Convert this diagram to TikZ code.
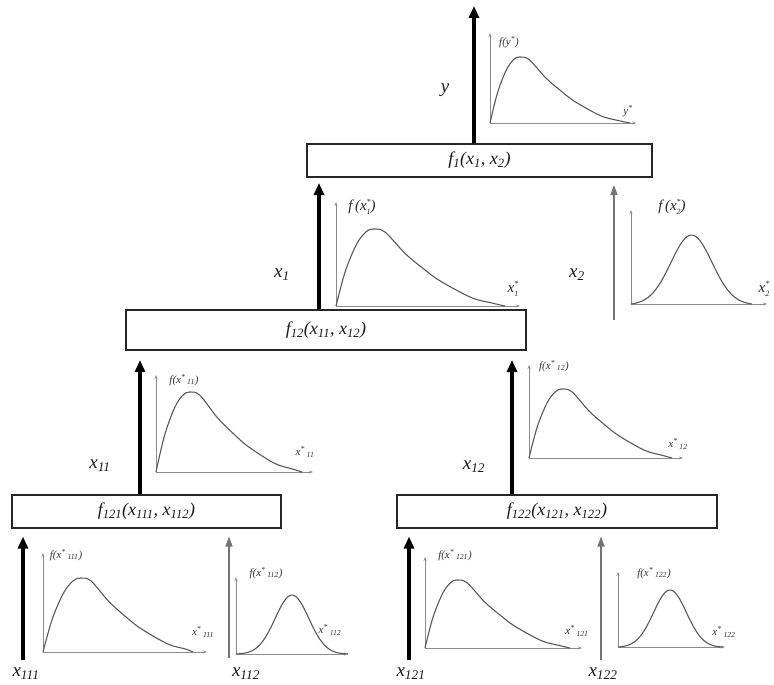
\documentclass[tikz,border=0pt]{standalone}
\usepackage{fontspec}
\setmainfont{Liberation Serif}
\usetikzlibrary{arrows.meta}
\newcommand\sbs[1]{\textsubscript{#1}}
\newcommand\sps[1]{\textsuperscript{#1}}
\newcommand\stk[2]{\raisebox{-0.6ex}{\fontsize{8}{8}\selectfont\shortstack{#1\\[0.3ex]#2}}}
\newcommand\skewplot[7]{%
  \draw[axisline] (#1,#3) -- (#1,#2) -- (#4,#2);
  \draw[curve] plot[smooth,tension=0.55] coordinates {(#1,#2)
    ({#1+0.25*#7*#5},{#2-0.45*#6}) ({#1+0.55*#7*#5},{#2-0.80*#6})
    ({#1+0.8*#7*#5},{#2-0.96*#6}) ({#1+#7*#5},{#2-#6})
    ({#1+(#7+0.07)*#5},{#2-0.96*#6}) ({#1+(#7+0.19)*#5},{#2-0.68*#6})
    ({#1+(#7+0.30)*#5},{#2-0.48*#6}) ({#1+(#7+0.40)*#5},{#2-0.32*#6})
    ({#1+(#7+0.58)*#5},{#2-0.11*#6}) ({#1+(#7+0.70)*#5},{#2-0.04*#6})
    ({#1+#5},{#2})};}
\newcommand\gaussplot[7]{%
  \draw[axisline] (#1,#3) -- (#1,#2) -- (#4,#2);
  \draw[curve] plot[domain=0:1,samples=50,smooth]
    ({#1+#5*\x},{#2-#6*(exp(-(\x-0.5)*(\x-0.5)/#7)-exp(-0.25/#7))/(1-exp(-0.25/#7))});}
\begin{document}
\begin{tikzpicture}[x=1pt,y=-1pt,
  fbox/.style={draw=black!85, line width=1.1pt, minimum height=33pt, inner sep=0pt,
    font=\fontsize{18}{18}\selectfont\itshape, text=black!90},
  thickarr/.style={line width=3.5pt, -{Triangle[length=12pt,width=10pt]}},
  thinarr/.style={line width=1.6pt, draw=black!55, -{Triangle[length=10pt,width=7pt]}},
  axisline/.style={draw=black!45, line width=0.9pt,
    {Stealth[length=4pt,width=3pt]}-{Stealth[length=4pt,width=3pt]}},
  curve/.style={draw=black!65, line width=1.1pt},
  varlab/.style={font=\fontsize{19}{19}\selectfont\itshape, text=black!90, inner sep=0pt},
  plab/.style={font=\fontsize{11}{11}\selectfont\itshape, text=black!80, inner sep=0pt},
  plabL/.style={font=\fontsize{15}{15}\selectfont\itshape, text=black!85, inner sep=0pt}]
\useasboundingbox[fill=white] (0,0) rectangle (774,685);

% boxes
\node[fbox, minimum width=345pt] (f1) at (479.5,160.5) {f\sbs{1}(x\sbs{1}, x\sbs{2})};
\node[fbox, minimum width=400pt, minimum height=40pt] (f12) at (326,330) {f\sbs{12}(x\sbs{11}, x\sbs{12})};
\node[fbox, minimum width=269pt] (f121) at (146.5,511.5) {f\sbs{121}(x\sbs{111}, x\sbs{112})};
\node[fbox, minimum width=320pt] (f122) at (557,511.5) {f\sbs{122}(x\sbs{121}, x\sbs{122})};

% arrow end points
\coordinate (yT) at (474,6);
\coordinate (x1T) at (319,183);
\coordinate (x2B) at (614,320);
\coordinate (x2T) at (614,185);
\coordinate (x11T) at (140,360);
\coordinate (x12T) at (512,360);
\coordinate (x111B) at (23,660);
\coordinate (x112B) at (229,658);
\coordinate (x121B) at (409,660);
\coordinate (x122B) at (601,660);

% arrows
\draw[thickarr] (yT |- f1.north) -- (yT);
\draw[thickarr] (x1T |- f12.north) -- (x1T);
\draw[thinarr] (x2B) -- (x2T);
\draw[thickarr] (x11T |- f121.north) -- (x11T);
\draw[thickarr] (x12T |- f122.north) -- (x12T);
\draw[thickarr, shorten >=8pt] (x111B) -- (x111B |- f121.south);
\draw[thinarr, shorten >=8pt] (x112B) -- (x112B |- f121.south);
\draw[thickarr, shorten >=8pt] (x121B) -- (x121B |- f122.south);
\draw[thinarr, shorten >=8pt] (x122B) -- (x122B |- f122.south);

% variable labels
\node[varlab] (ly) at (445,90) {y};
\node[varlab] (lx1) at (282,275) {x\sbs{1}};
\node[varlab] (lx2) at (577,275) {x\sbs{2}};
\node[varlab] (lx11) at (100,466) {x\sbs{11}};
\node[varlab] (lx12) at (474,467) {x\sbs{12}};
\node[varlab] (lx111) at (26,674) {x\sbs{111}};
\node[varlab] (lx112) at (246,674) {x\sbs{112}};
\node[varlab] (lx121) at (411,674) {x\sbs{121}};
\node[varlab] (lx122) at (603,674) {x\sbs{122}};

% distribution plots
\skewplot{490}{123}{33}{636}{140}{66}{0.21}
\skewplot{336}{306}{202}{520}{169}{77}{0.22}
\gaussplot{631}{304}{210}{767}{121}{69}{0.0578}
\skewplot{156}{472}{375}{313}{146}{80}{0.23}
\skewplot{529}{458}{365}{683}{143}{69}{0.23}
\skewplot{43}{652}{553}{207}{150}{74}{0.25}
\gaussplot{236}{654}{577}{348}{112}{59}{0.045}
\skewplot{425}{648}{557}{582}{145}{68}{0.22}
\gaussplot{618}{647}{572}{725}{104}{57}{0.05}

% plot labels
\node[plab] (py1) at (509,42) {f(y\sps{*})};
\node[plab] (py2) at (628,111) {y\sps{*}};
\node[plabL] (p1a) at (362,207) {f\,(x\stk{*}{1})};
\node[plabL] (p1b) at (513,289) {x\stk{*}{1}};
\node[plabL] (p2a) at (672,207) {f\,(x\stk{*}{2})};
\node[plabL] (p2b) at (764,289) {x\stk{*}{2}};
\node[plab] (p11a) at (184,380) {f(x\sps{*}\,\sbs{11})};
\node[plab] (p11b) at (305,452) {x\sps{*}\,\sbs{11}};
\node[plab] (p12a) at (554,366) {f(x\sps{*}\,\sbs{12})};
\node[plab] (p12b) at (678,444) {x\sps{*}\,\sbs{12}};
\node[plab] (p111a) at (66,555) {f(x\sps{*}\,\sbs{111})};
\node[plab] (p111b) at (203,632) {x\sps{*}\,\sbs{111}};
\node[plab] (p112a) at (266,573) {f(x\sps{*}\,\sbs{112})};
\node[plab] (p112b) at (330,630) {x\sps{*}\,\sbs{112}};
\node[plab] (p121a) at (455,555) {f(x\sps{*}\,\sbs{121})};
\node[plab] (p121b) at (577,631) {x\sps{*}\,\sbs{121}};
\node[plab] (p122a) at (654,573) {f(x\sps{*}\,\sbs{122})};
\node[plab] (p122b) at (724,632) {x\sps{*}\,\sbs{122}};
\end{tikzpicture}
\end{document}
